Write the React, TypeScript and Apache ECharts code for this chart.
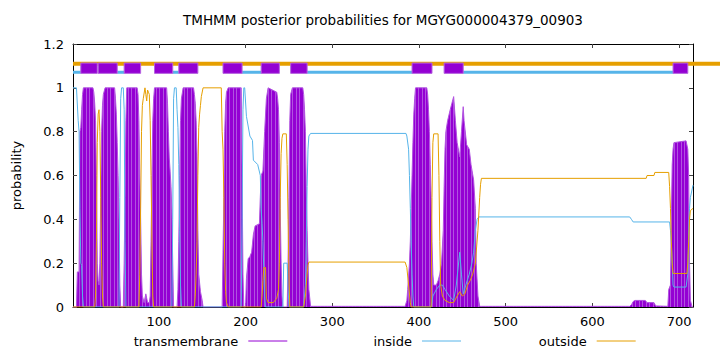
import React, { useEffect, useRef } from "react";
import * as echarts from "echarts";

const TITLE = "TMHMM posterior probabilities for MGYG000004379_00903";
const FONT = '"DejaVu Sans", "Liberation Sans", sans-serif';
const X_MIN = 1;
const X_MAX = 716;
const xTicks = [100, 200, 300, 400, 500, 600, 700];

// predicted topology (residue ranges)
const tmSegments = [[10, 29], [30, 52], [60, 79], [95, 116], [123, 145], [174, 196], [218, 239], [252, 271], [392, 415], [429, 451], [693, 710]];
const insideSegments = [[1, 10], [52, 60], [116, 123], [196, 218], [271, 392], [451, 693]];
const outsideSegments = [[1, 716]];

// posterior probabilities [residue, probability]
const tmProb = [
  [1, 0], [5, 0], [6, 0.16], [8, 0.16], [9, 0.8], [10, 0.82], [11, 0.9], [12, 0.97], [13, 1], [24, 1], [25, 0.98], [26, 0.93],
  [27, 0.85], [28, 0.6], [29, 0.2], [30, 0.12], [31, 0.1], [32, 0.2], [33, 0.5], [34, 0.8], [35, 0.92], [36, 0.97], [38, 1],
  [49, 1], [50, 0.95], [51, 0.88], [52, 0.75], [53, 0.6], [54, 0.4], [55, 0.1], [56, 0],
  [59, 0], [60, 0.2], [61, 0.5], [62, 0.85], [63, 1], [75, 1], [76, 0.97], [77, 0.85], [78, 0.6], [79, 0.4], [80, 0.15], [81, 0.05],
  [83, 0.02], [85, 0.06], [87, 0.02], [89, 0.02], [90, 0.05], [91, 0.3], [92, 0.6], [93, 0.85], [94, 0.95], [95, 1],
  [109, 1], [110, 0.93], [111, 0.8], [112, 0.68], [113, 0.62], [114, 0.55], [115, 0.44], [116, 0.2], [117, 0],
  [121, 0], [122, 0.08], [123, 0.3], [124, 0.6], [125, 0.85], [126, 0.95], [128, 1], [140, 1], [141, 0.97], [142, 0.93],
  [143, 0.85], [144, 0.7], [145, 0.35], [146, 0.15], [148, 0.07], [150, 0.03], [151, 0],
  [173, 0], [174, 0.25], [175, 0.5], [176, 0.8], [177, 0.93], [178, 0.98], [180, 1], [195, 1], [196, 0.6], [197, 0.15], [198, 0],
  [200, 0], [201, 0.13], [203, 0.22], [205, 0.23], [207, 0.25], [209, 0.33], [211, 0.37], [216, 0.38], [217, 0.5], [218, 0.6],
  [220, 0.62], [222, 0.8], [224, 0.95], [226, 1], [236, 0.98], [237, 0.95], [238, 0.9], [239, 0.75], [240, 0.45], [241, 0.2],
  [242, 0.05], [243, 0],
  [248, 0], [249, 0.2], [250, 0.5], [251, 0.85], [252, 0.97], [254, 1], [266, 1], [267, 0.97], [268, 0.9], [269, 0.8],
  [270, 0.55], [271, 0.35], [272, 0.2], [273, 0.08], [275, 0.003], [384, 0.003],
  [386, 0.03], [387, 0.08], [389, 0.2], [390, 0.3], [391, 0.45], [392, 0.6], [393, 0.75], [394, 0.88], [395, 0.95], [396, 1],
  [409, 1], [410, 0.97], [411, 0.9], [412, 0.8], [413, 0.65], [414, 0.5], [415, 0.3], [416, 0.15], [417, 0.1], [420, 0.1],
  [422, 0.12], [424, 0.15], [426, 0.2], [428, 0.35], [429, 0.55], [430, 0.72], [431, 0.8], [433, 0.85], [436, 0.9], [438, 0.93],
  [440, 0.96], [442, 0.85], [444, 0.75], [447, 0.685], [449, 0.8], [451, 0.914], [452, 0.85], [455, 0.74], [458, 0.72],
  [460, 0.65], [463, 0.58], [465, 0.45], [466, 0.2], [468, 0.05], [470, 0.003],
  [643, 0.003], [645, 0.01], [647, 0.025], [649, 0.03], [661, 0.03], [663, 0.02], [671, 0.02], [673, 0.005], [687, 0.003],
  [688, 0.08], [690, 0.1], [691, 0.4], [692, 0.65], [693, 0.72], [694, 0.75], [708, 0.758], [710, 0.72], [711, 0.6],
  [712, 0.2], [713, 0.03], [715, 0], [716, 0],
];

const insideProb = [
  [1, 1], [5, 1], [7, 0.85], [8, 0.8], [9, 0.45], [10, 0.2], [11, 0.19], [12, 0.05], [13, 0],
  [54, 0], [55, 0.5], [56, 0.95], [57, 1], [59, 1], [60, 0.9], [61, 0.3], [62, 0],
  [115, 0], [116, 0.4], [117, 0.95], [118, 1], [120, 1], [121, 0.9], [122, 0.82], [123, 0.65], [124, 0.35], [125, 0.1], [126, 0],
  [195, 0], [196, 0.4], [197, 0.9], [198, 1], [199, 1], [201, 0.87], [205, 0.78], [208, 0.76], [209, 0.67], [214, 0.65],
  [217, 0.6], [218, 0.45], [219, 0.38], [220, 0.3], [222, 0.05], [223, 0],
  [243, 0], [244, 0.2], [248, 0.2], [250, 0],
  [267, 0], [269, 0.1], [270, 0.3], [271, 0.55], [272, 0.72], [273, 0.78], [275, 0.792], [385, 0.792], [386, 0.78],
  [388, 0.72], [389, 0.6], [390, 0.45], [391, 0.3], [392, 0.15], [393, 0.05], [394, 0],
  [414, 0], [416, 0.05], [420, 0.08], [424, 0.1], [427, 0.1], [430, 0.08], [435, 0.05], [440, 0.03], [443, 0.1], [447, 0.25],
  [449, 0.15], [451, 0.06], [454, 0.1], [458, 0.15], [461, 0.2], [463, 0.25], [465, 0.35], [467, 0.4], [469, 0.411],
  [643, 0.411], [645, 0.4], [647, 0.388], [689, 0.388], [690, 0.35], [691, 0.3], [692, 0.2], [693, 0.1], [694, 0.091],
  [708, 0.091], [710, 0.15], [711, 0.35], [712, 0.45], [713, 0.5], [716, 0.556],
];

const outsideProb = [
  [1, 0], [26, 0], [27, 0.05], [28, 0.3], [29, 0.75], [30, 0.88], [31, 0.9], [32, 0.8], [33, 0.5], [34, 0.2], [35, 0.05], [36, 0],
  [77, 0], [78, 0.15], [79, 0.45], [80, 0.8], [81, 0.92], [82, 0.95], [84, 1], [85, 0.97], [86, 0.94], [87, 0.99], [88, 0.98],
  [89, 0.97], [90, 0.85], [91, 0.6], [92, 0.3], [93, 0.05], [94, 0],
  [141, 0], [142, 0.05], [143, 0.15], [144, 0.3], [145, 0.6], [146, 0.82], [147, 0.88], [148, 0.92], [149, 0.96], [151, 1],
  [172, 1], [173, 0.8], [174, 0.72], [175, 0.5], [176, 0.2], [177, 0.07], [178, 0.02], [180, 0],
  [218, 0], [219, 0.05], [220, 0.12], [221, 0.18], [223, 0.18], [224, 0.04], [226, 0.02], [232, 0.02], [236, 0.04],
  [238, 0.08], [239, 0.2], [240, 0.5], [241, 0.7], [242, 0.77], [243, 0.79], [247, 0.79], [248, 0.65], [249, 0.4],
  [250, 0.15], [251, 0],
  [267, 0], [269, 0.05], [271, 0.15], [272, 0.19], [273, 0.205], [384, 0.205], [386, 0.18], [388, 0.1], [390, 0.02], [391, 0],
  [414, 0], [415, 0.5], [416, 0.75], [417, 0.79], [422, 0.79], [423, 0.6], [424, 0.3], [425, 0.1], [427, 0.05], [430, 0.03],
  [435, 0.02], [440, 0.02], [444, 0.05], [447, 0.07], [450, 0.05], [453, 0.06], [456, 0.1], [459, 0.12], [462, 0.15],
  [465, 0.2], [468, 0.35], [470, 0.5], [471, 0.56], [472, 0.587],
  [662, 0.587], [663, 0.6], [671, 0.6], [672, 0.614], [688, 0.614], [689, 0.55], [690, 0.45], [691, 0.3], [692, 0.2],
  [693, 0.153], [709, 0.153], [710, 0.2], [711, 0.3], [712, 0.4], [713, 0.44], [716, 0.45],
];

const legendItems = ["transmembrane", "inside", "outside"];

const C_TM = "#9400D3";
const C_TM_LIGHT = "#B152E0";
const C_IN = "#56B4E9";
const C_OUT = "#E69F00";

function makeStripePattern(): any {
  try {
    const c = document.createElement("canvas");
    c.width = 7;
    c.height = 4;
    const ctx = c.getContext("2d");
    if (!ctx) return C_TM;
    ctx.fillStyle = C_TM;
    ctx.fillRect(0, 0, 7, 4);
    ctx.fillStyle = C_TM_LIGHT;
    ctx.fillRect(2, 0, 1, 4);
    ctx.fillRect(5, 0, 1, 4);
    return { image: c, repeat: "repeat" };
  } catch (e) {
    return C_TM;
  }
}

function buildOption() {
  const OUT_Y = 1.11;
  const IN_Y = 1.071;
  const BOX_TOP = 1.113;
  const BOX_BOTTOM = 1.066;
  const axisCommon = {
    type: "value",
    min: X_MIN,
    max: X_MAX,
    splitLine: { show: false },
    axisLine: { show: true, onZero: false, lineStyle: { color: "#000", width: 1 } },
    axisTick: { show: true, inside: true, length: 4, customValues: xTicks, lineStyle: { color: "#444" } },
  };
  const yCommon = {
    type: "value",
    min: 0,
    max: 1.2,
    interval: 0.2,
    splitLine: { show: false },
    axisLine: { show: true, onZero: false, lineStyle: { color: "#000", width: 1 } },
    axisTick: { show: true, inside: true, length: 4, lineStyle: { color: "#444" } },
  };
  const legendColors = [C_TM, C_IN, C_OUT];
  const legendLineEnds = [287.3, 461, 635.7];
  const graphic: any[] = [];
  legendItems.forEach((name, i) => {
    const xe = legendLineEnds[i];
    graphic.push({
      type: "text",
      x: xe - 49,
      y: 341,
      style: {
        text: name,
        align: "right",
        verticalAlign: "middle",
        textAlign: "right",
        textVerticalAlign: "middle",
        fontSize: 13,
        fontFamily: FONT,
        fill: "#000",
      },
    });
    graphic.push({
      type: "line",
      shape: { x1: xe - 39, y1: 341, x2: xe, y2: 341 },
      style: { stroke: legendColors[i], lineWidth: 1 },
    });
  });

  return {
    animation: false,
    textStyle: { fontFamily: FONT },
    title: {
      text: TITLE,
      left: 383,
      top: 13,
      textAlign: "center",
      padding: 0,
      textStyle: { fontSize: 13.5, fontWeight: "normal", color: "#000", fontFamily: FONT },
    },
    grid: { left: 73, right: 27, top: 44, bottom: 45 },
    xAxis: [
      {
        ...axisCommon,
        position: "bottom",
        axisLabel: { customValues: xTicks, color: "#000", fontSize: 13, margin: 8, fontFamily: FONT },
      },
      {
        ...axisCommon,
        position: "top",
        axisLabel: { show: false },
      },
    ],
    yAxis: [
      {
        ...yCommon,
        position: "left",
        name: "probability",
        nameLocation: "middle",
        nameGap: 50,
        nameTextStyle: { fontSize: 13, color: "#000", fontFamily: FONT },
        axisLabel: { color: "#000", fontSize: 13, margin: 9, fontFamily: FONT },
      },
      {
        ...yCommon,
        position: "right",
        axisLabel: { show: false },
      },
    ],
    graphic,
    series: [
      {
        type: "line",
        name: "transmembrane",
        data: tmProb,
        symbol: "none",
        lineStyle: { color: C_TM_LIGHT, width: 1 },
        areaStyle: { color: makeStripePattern(), opacity: 1 },
        z: 2,
        silent: true,
      },
      {
        type: "line",
        name: "inside",
        data: insideProb,
        symbol: "none",
        lineStyle: { color: C_IN, width: 1 },
        z: 3,
        silent: true,
      },
      {
        type: "line",
        name: "outside",
        data: outsideProb,
        symbol: "none",
        lineStyle: { color: C_OUT, width: 1 },
        z: 4,
        silent: true,
      },
      {
        type: "custom",
        name: "outside-region",
        data: outsideSegments.map(([a, b]) => [a, b, OUT_Y]),
        encode: { x: [0, 1], y: 2 },
        clip: false,
        silent: true,
        z: 5,
        renderItem: (params: any, api: any) => {
          const s = api.coord([api.value(0), api.value(2)]);
          const e = api.coord([api.value(1), api.value(2)]);
          const x2 = api.value(1) >= X_MAX ? api.getWidth() : e[0];
          return {
            type: "line",
            shape: { x1: s[0], y1: s[1], x2, y2: e[1] },
            style: { stroke: C_OUT, lineWidth: 4 },
          };
        },
      },
      {
        type: "custom",
        name: "inside-region",
        data: insideSegments.map(([a, b]) => [a, b, IN_Y]),
        encode: { x: [0, 1], y: 2 },
        silent: true,
        z: 6,
        renderItem: (params: any, api: any) => {
          const s = api.coord([api.value(0), api.value(2)]);
          const e = api.coord([api.value(1), api.value(2)]);
          return {
            type: "line",
            shape: { x1: s[0], y1: s[1], x2: e[0], y2: e[1] },
            style: { stroke: C_IN, lineWidth: 3 },
          };
        },
      },
      {
        type: "custom",
        name: "tm-region",
        data: tmSegments.map(([a, b]) => [a, b, BOX_TOP, BOX_BOTTOM]),
        encode: { x: [0, 1], y: [2, 3] },
        silent: true,
        z: 7,
        renderItem: (params: any, api: any) => {
          const s = api.coord([api.value(0), api.value(2)]);
          const e = api.coord([api.value(1), api.value(3)]);
          return {
            type: "rect",
            shape: { x: s[0], y: s[1], width: e[0] - s[0], height: e[1] - s[1] },
            style: { fill: C_TM, stroke: "#B562DF", lineWidth: 1 },
          };
        },
      },
    ],
  };
}

export default function App() {
  const ref = useRef<HTMLDivElement>(null);
  useEffect(() => {
    document.body.style.margin = "0";
    const chart = echarts.init(ref.current!, null, { renderer: "svg" });
    chart.setOption(buildOption() as any);
    return () => chart.dispose();
  }, []);
  return <div ref={ref} style={{ width: 720, height: 352 }} />;
}
